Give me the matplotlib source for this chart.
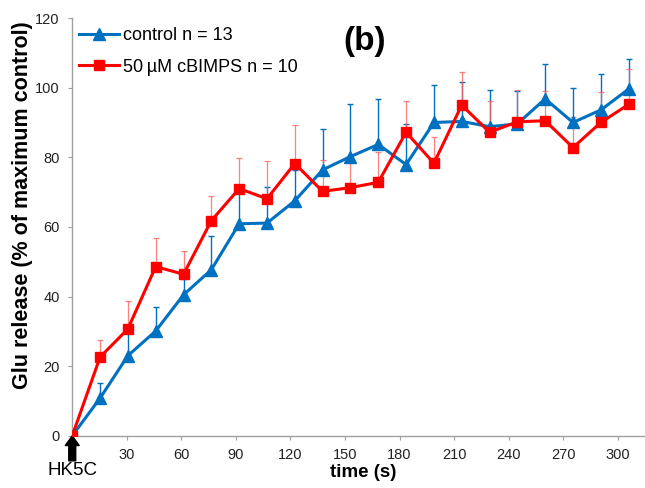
import numpy as np
import matplotlib.pyplot as plt

plt.rcParams['font.family'] = ['Liberation Sans', 'DejaVu Sans']

# sampling times (s)
time_s = [0, 15.3, 30.6, 45.9, 61.2, 76.5, 91.8, 107.1, 122.4, 137.7, 153.0,
          168.3, 183.6, 198.9, 214.2, 229.5, 244.8, 260.1, 275.4, 290.7, 306.0]

# control n = 13
control_mean = [0, 10.8, 23.0, 30.1, 40.5, 47.7, 60.9, 61.1, 67.5, 76.4, 80.2,
                83.7, 77.9, 90.0, 90.3, 88.8, 89.6, 96.8, 90.0, 93.6, 99.6]
control_err = [0, 4.3, 7.5, 7.0, 4.5, 9.7, 9.5, 10.5, 8.9, 11.8, 15.0,
               13.0, 11.7, 10.7, 11.4, 10.5, 9.5, 9.9, 10.0, 10.3, 8.7]

# 50 uM cBIMPS n = 10
cbimps_mean = [0, 22.6, 30.7, 48.6, 46.4, 61.8, 71.0, 68.1, 78.2, 70.2, 71.3,
               72.8, 87.2, 78.3, 95.0, 87.2, 90.2, 90.5, 82.8, 90.0, 95.2]
cbimps_err = [0, 4.9, 8.1, 8.2, 6.7, 7.2, 8.8, 10.9, 11.0, 8.9, 8.5,
              8.6, 9.1, 7.6, 9.4, 9.0, 9.1, 8.6, 8.9, 8.9, 10.1]

blue = '#0070C0'
red = '#FF0000'

fig = plt.figure(figsize=(6.45, 4.88), dpi=100)
ax = fig.add_axes([0.112, 0.107, 0.888, 0.856])

zeros = np.zeros(len(time_s))
ax.errorbar(time_s, control_mean, yerr=[zeros, control_err], fmt='none',
            ecolor=blue, elinewidth=1.0, capsize=2.5, capthick=1.0, zorder=2)
ax.errorbar(time_s, cbimps_mean, yerr=[zeros, cbimps_err], fmt='none',
            ecolor='#FF6060', elinewidth=0.9, capsize=2.5, capthick=0.9,
            alpha=0.8, zorder=2)

ax.plot(time_s, control_mean, color=blue, lw=2.2, marker='^', ms=8.5,
        label='control n = 13', zorder=3)
ax.plot(time_s, cbimps_mean, color=red, lw=2.2, marker='s', ms=7,
        label='50\u2009\u00b5M cBIMPS n = 10', zorder=4)

ax.set_xlim(0, 315)
ax.set_ylim(0, 120)
ax.set_xticks(np.arange(30, 301, 30))
ax.set_yticks(np.arange(0, 121, 20))
ax.tick_params(axis='both', labelsize=10.5, length=3, color='#A0A0A0',
               labelcolor='#222222')
ax.tick_params(axis='x', pad=6)
ax.tick_params(axis='y', pad=6)

for side in ['top', 'right']:
    ax.spines[side].set_visible(False)
for side in ['left', 'bottom']:
    ax.spines[side].set_color('#A0A0A0')
    ax.spines[side].set_linewidth(1.0)

ax.set_xlabel('time (s)', fontsize=13.5, fontweight='bold')
ax.xaxis.set_label_coords(0.508, -0.068)
ax.set_ylabel('Glu release (% of maximum control)', fontsize=15.5,
              fontweight='bold')
ax.yaxis.set_label_coords(-0.068, 0.553)

ax.text(0.511, 0.943, '(b)', transform=ax.transAxes, fontsize=24,
        fontweight='bold', ha='center', va='center')

leg = ax.legend(loc='upper left', bbox_to_anchor=(0.0, 0.995), frameon=False,
                fontsize=13, handlelength=2.2, handletextpad=0.2,
                labelspacing=0.8, borderaxespad=0.0)

# stimulus marker
ax.annotate('', xy=(0, 0), xycoords='data', xytext=(0, -0.06),
            textcoords=('data', 'axes fraction'),
            arrowprops=dict(arrowstyle='simple,head_width=1.0,head_length=0.7,tail_width=0.5',
                            color='black', shrinkA=0, shrinkB=0),
            annotation_clip=False)
ax.text(0, -0.084, 'HK5C', transform=ax.get_xaxis_transform(), fontsize=13.5,
        ha='center', va='center')

fig.savefig('out.png', dpi=100)
